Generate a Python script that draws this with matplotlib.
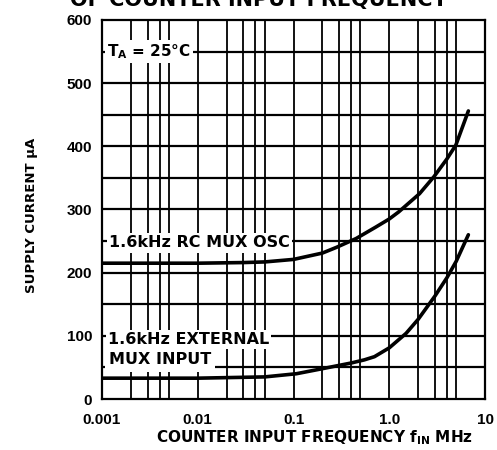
import matplotlib
matplotlib.use("Agg")
import matplotlib.pyplot as plt

# values (frequency in MHz, current in uA)
freq_rc = [0.001, 0.01, 0.03, 0.05, 0.1, 0.2, 0.28, 0.45, 0.72, 1.0, 1.25, 2.07, 2.93, 4.0, 4.96, 6.7]
curr_rc = [215, 215, 216, 217, 221, 231, 240, 254, 272, 285, 296, 325, 352, 380, 402, 456]

freq_ext = [0.001, 0.01, 0.05, 0.107, 0.2, 0.4, 0.55, 0.7, 1.0, 1.5, 2.0, 3.0, 4.0, 5.0, 6.7]
curr_ext = [33, 33, 35, 40, 48, 57, 62, 67, 81, 104, 126, 163, 192, 218, 260]

xticks = [0.001, 0.01, 0.1, 1.0, 10]
xtick_labels = ["0.001", "0.01", "0.1", "1.0", "10"]
yticks = [0, 100, 200, 300, 400, 500, 600]

plt.rcParams['font.family'] = ['DejaVu Sans']
plt.rcParams['font.weight'] = 'bold'
plt.rcParams['mathtext.default'] = 'regular'

fig = plt.figure(figsize=(4.97, 4.5), dpi=100)
ax = fig.add_axes([0.2052, 0.1133, 0.7707, 0.8423])

ax.set_xscale('log')
ax.set_xlim(0.001, 10)
ax.set_ylim(0, 600)

# grid: 1..5 in each decade, every 50 uA
for dec in [0.001, 0.01, 0.1, 1.0]:
    for m in [1, 2, 3, 4, 5]:
        ax.axvline(dec * m, color='black', lw=1.3, zorder=1)
for yv in range(50, 600, 50):
    ax.axhline(yv, color='black', lw=1.6, zorder=1)

ax.plot(freq_rc, curr_rc, color='black', lw=2.6, zorder=4, solid_capstyle='round')
ax.plot(freq_ext, curr_ext, color='black', lw=2.6, zorder=4, solid_capstyle='round')

box = dict(facecolor='white', edgecolor='none', pad=1.5)
ax.text(0.00112, 550, "T$_A$ = 25°C", fontsize=11, va='center',
        ha='left', bbox=box, zorder=3)
ax.text(0.00118, 247, "1.6kHz RC MUX OSC", fontsize=11.5, va='center',
        ha='left', bbox=box, zorder=3)
ax.text(0.00115, 94, "1.6kHz EXTERNAL", fontsize=11.5, va='center',
        ha='left', bbox=box, zorder=3)
ax.text(0.00118, 62, "MUX INPUT", fontsize=11.5, va='center',
        ha='left', bbox=dict(facecolor='white', edgecolor='none', pad=3), zorder=3)

ax.set_xticks(xticks)
ax.set_xticklabels(xtick_labels, family='Liberation Sans')
ax.set_yticks(yticks)
ax.set_yticklabels([str(v) for v in yticks], family='Liberation Sans')
ax.minorticks_off()
ax.tick_params(length=0, labelsize=11)
ax.tick_params(axis='x', pad=10)
ax.tick_params(axis='y', pad=7)
for sp in ax.spines.values():
    sp.set_linewidth(1.6)

ax.set_xlabel("COUNTER INPUT FREQUENCY f$_{IN}$ MHz", fontsize=11, fontweight='bold')
ax.xaxis.set_label_coords(0.555, -0.078)
ax.set_ylabel("SUPPLY CURRENT μA", fontsize=9.5, fontweight='bold')
ax.yaxis.set_label_coords(-0.168, 0.485)

fig.text(0.52, 1 - 6 / 450, "OF COUNTER INPUT FREQUENCY", fontsize=15, fontweight='bold',
         ha='center', va='baseline')

fig.savefig("out.png", dpi=100)
